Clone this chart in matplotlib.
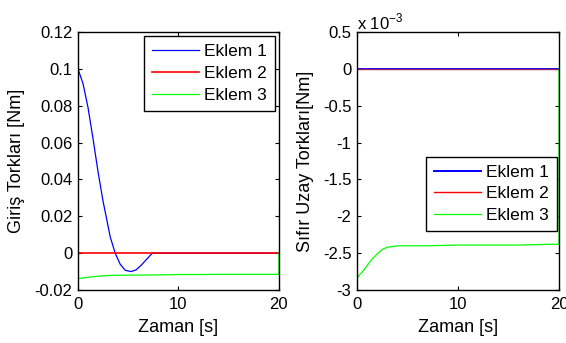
import matplotlib
matplotlib.use("Agg")
import matplotlib.pyplot as plt
import numpy as np

plt.rcParams['font.family'] = ['Liberation Sans', 'DejaVu Sans']
plt.rcParams['font.size'] = 12

# Input torques (left panel)
t_j1 = [0, 0.5, 1.0, 1.5, 2.0, 2.5, 2.8, 3.2, 3.7, 4.2, 4.7, 5.3, 5.8, 6.3, 6.8, 7.4, 20]
tau_j1 = [0.1, 0.092, 0.079, 0.062, 0.044, 0.028, 0.02, 0.009, 0.0, -0.006, -0.0093,
          -0.0100, -0.009, -0.0065, -0.0035, 0.0, 0.0]
t_j2 = [0, 20]
tau_j2 = [0.0, 0.0]
t_j3 = [0, 1, 2, 3, 4, 6, 8, 10, 12, 14, 16, 18, 20, 20]
tau_j3 = [-0.0138, -0.0131, -0.0125, -0.0121, -0.0120, -0.0119, -0.0118, -0.0116,
          -0.0116, -0.0115, -0.0115, -0.0115, -0.0115, 0.0]

# Null-space torques (right panel), in units of 1e-3 Nm
t_n12 = [0, 20]
null_j1 = [0.0, 0.0]
null_j2 = [0.0, 0.0]
t_n3 = [0, 0.2, 0.5, 1, 1.5, 2, 2.5, 3, 3.5, 4, 5, 7, 10, 13, 16, 19, 20, 20]
null_j3 = [-2.85, -2.80, -2.76, -2.67, -2.58, -2.51, -2.45, -2.42, -2.41, -2.40,
           -2.40, -2.40, -2.39, -2.39, -2.39, -2.38, -2.38, 0.0]

labels = ['Eklem 1', 'Eklem 2', 'Eklem 3']
colors = ['#0000ff', '#ff0000', '#00ff00']

fig = plt.figure(figsize=(5.66, 3.43), dpi=100)
ax1 = fig.add_axes([0.1378, 0.1545, 0.355, 0.752])
ax2 = fig.add_axes([0.6307, 0.1545, 0.357, 0.752])

leg_kw = dict(frameon=True, fancybox=False, edgecolor='black', framealpha=1,
              borderpad=0.45, handlelength=2.7, labelspacing=0.38,
              handletextpad=0.3, fontsize=12.5)

ax1.plot(t_j1, tau_j1, color=colors[0], lw=0.9, label=labels[0])
ax1.plot(t_j2, tau_j2, color=colors[1], lw=1.2, label=labels[1])
ax1.plot(t_j3, tau_j3, color=colors[2], lw=0.9, label=labels[2])
ax1.set_xlim(0, 20)
ax1.set_ylim(-0.02, 0.12)
ax1.set_xticks([0, 10, 20])
ax1.set_yticks([-0.02, 0, 0.02, 0.04, 0.06, 0.08, 0.1, 0.12])
ax1.set_yticklabels(['-0.02', '0', '0.02', '0.04', '0.06', '0.08', '0.1', '0.12'])
ax1.set_xlabel('Zaman [s]', labelpad=5, fontsize=13)
ax1.set_ylabel('Giriş Torkları [Nm]', labelpad=7, fontsize=13)
ax1.legend(loc='upper right', borderaxespad=0.25, **leg_kw)

ax2.plot(t_n12, null_j1, color=colors[0], lw=1.4, label=labels[0])
ax2.plot(t_n12, null_j2, color='#a0206a', lw=1.0, label=labels[1])
ax2.plot(t_n3, null_j3, color=colors[2], lw=0.9, label=labels[2])
ax2.set_xlim(0, 20)
ax2.set_ylim(-3, 0.5)
ax2.set_xticks([0, 10, 20])
ax2.set_yticks([-3, -2.5, -2, -1.5, -1, -0.5, 0, 0.5])
ax2.set_yticklabels(['-3', '-2.5', '-2', '-1.5', '-1', '-0.5', '0', '0.5'])
ax2.set_xlabel('Zaman [s]', labelpad=5, fontsize=13)
ax2.set_ylabel('Sıfır Uzay Torkları[Nm]', labelpad=6, fontsize=13)
ax2.text(0.0, 1.0, r'x 10$^{\mathregular{-3}}$', transform=ax2.transAxes,
         ha='left', va='bottom', fontsize=12)
leg2 = ax2.legend(loc='lower right', bbox_to_anchor=(0.99, 0.229),
                  borderaxespad=0.0, **leg_kw)
leg2.get_lines()[1].set_color(colors[1])

for ax in (ax1, ax2):
    ax.tick_params(direction='in', top=True, right=True, length=3, width=0.8)
    ax.tick_params(axis='x', pad=5)
    ax.tick_params(axis='y', pad=4)
    for s in ax.spines.values():
        s.set_linewidth(1.0)

fig.savefig('out.png', dpi=100)
